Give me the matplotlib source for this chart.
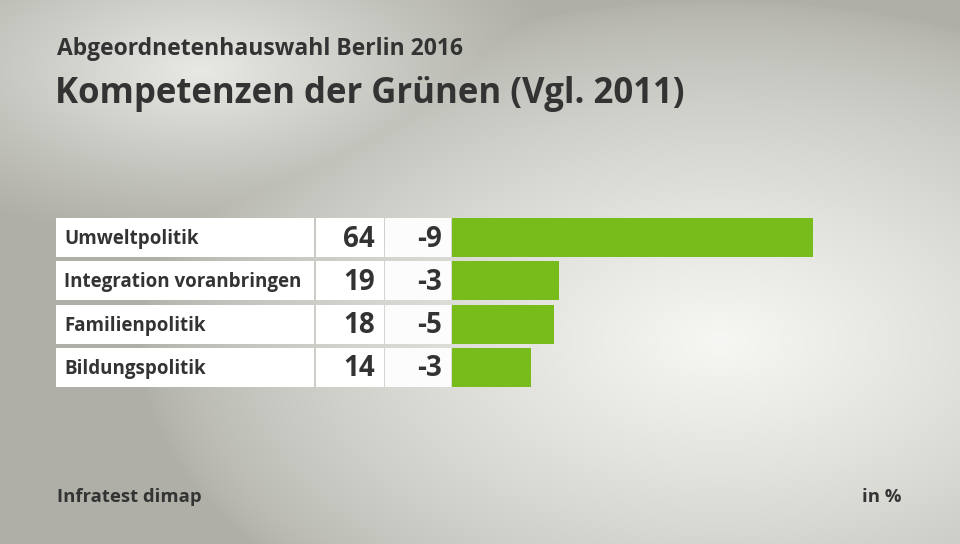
import numpy as np
import matplotlib.pyplot as plt
from matplotlib.patches import Rectangle

# data
categories = ["Umweltpolitik", "Integration voranbringen", "Familienpolitik", "Bildungspolitik"]
values = [64, 19, 18, 14]
changes = [-9, -3, -5, -3]

title = "Kompetenzen der Grünen (Vgl. 2011)"
subtitle = "Abgeordnetenhauswahl Berlin 2016"
source = "Infratest dimap"
unit = "in %"

W, H = 960, 544
plt.rcParams['font.family'] = ['Open Sans', 'DejaVu Sans']
txt = '#333333'
green = '#78bc1b'

fig = plt.figure(figsize=(W / 100, H / 100), dpi=100)

# background with soft radial light
bg = fig.add_axes([0, 0, 1, 1])
yy, xx = np.mgrid[0:H, 0:W]
d1 = np.sqrt(((xx - 720) / 580.0) ** 2 + ((yy - 340) / 340.0) ** 2)
d2 = np.sqrt(((xx - 200) / 360.0) ** 2 + ((yy - 70) / 170.0) ** 2)
light = np.clip(1 - d1, 0, 1) ** 0.7
light = np.maximum(light, 0.8 * np.clip(1 - d2, 0, 1) ** 1.1)
dark = np.array([0.69, 0.69, 0.66])
bright = np.array([0.965, 0.97, 0.955])
img = dark + (bright - dark) * light[..., None]
bg.imshow(img, extent=[0, W, H, 0], aspect='auto')
bg.set_xlim(0, W)
bg.set_ylim(H, 0)
bg.axis('off')

# table rows
pitch = 43.1
top = 216.3
bar_h = 39.0
for i, (cat, v, c) in enumerate(zip(categories, values, changes)):
    y0 = top + i * pitch + (pitch - bar_h) / 2
    yc = y0 + bar_h / 2 + 1.5
    bg.add_patch(Rectangle((56, y0), 258, bar_h, color='white', lw=0))
    bg.add_patch(Rectangle((316, y0), 68, bar_h, color='white', lw=0))
    bg.add_patch(Rectangle((385, y0), 66, bar_h, color='#fcfcfc', lw=0))
    bg.text(64, yc, cat, fontsize=13.5, fontweight='bold', color=txt,
            ha='left', va='center')
    bg.text(375, yc, str(v), fontsize=20, fontweight='bold', color=txt,
            ha='right', va='center')
    bg.text(442, yc, str(c), fontsize=20, fontweight='bold', color=txt,
            ha='right', va='center')

# bars
ax = fig.add_axes([452 / W, 1 - (top + 4 * pitch) / H, (813 - 452) / W, 4 * pitch / H])
ax.barh(range(len(values)), values, height=bar_h / pitch, color=green, left=0)
ax.set_xlim(0, max(values))
ax.set_ylim(len(values) - 0.5, -0.5)
ax.axis('off')

# titles
fig.text(57 / W, 1 - 49 / H, subtitle, fontsize=16.5, fontweight='bold', color=txt,
         ha='left', va='center')
fig.text(55 / W, 1 - 94 / H, title, fontsize=25, fontweight='bold', color=txt,
         ha='left', va='center')
fig.text(57 / W, 1 - 497 / H, source, fontsize=13.3, fontweight='bold', color=txt,
         ha='left', va='center')
fig.text(902 / W, 1 - 497 / H, unit, fontsize=13.3, fontweight='bold', color=txt,
         ha='right', va='center')

fig.savefig('out.png', dpi=100)
